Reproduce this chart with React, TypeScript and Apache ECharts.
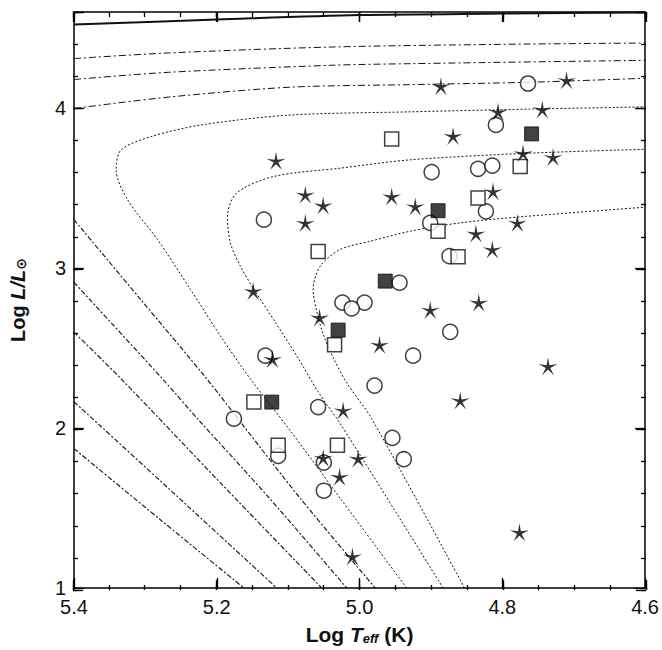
import React, { useEffect, useRef } from 'react';
import * as echarts from 'echarts';

// Axis ticks
const xTickValues = [5.4, 5.2, 5.0, 4.8, 4.6];
const yTickValues = [1, 2, 3, 4];

// Evolutionary tracks [log Teff, log L]
const trackTop = [[5.4, 4.522], [5.2, 4.553], [5.0, 4.581], [4.8, 4.59], [4.6, 4.597]];
const trackH1 = [[5.4, 4.309], [5.268, 4.344], [5.04, 4.381], [4.8, 4.398], [4.6, 4.406]];
const trackH2 = [[5.4, 4.178], [5.268, 4.223], [5.04, 4.267], [4.929, 4.277], [4.6, 4.298]];
const trackH3 = [[5.4, 3.997], [5.268, 4.068], [5.097, 4.13], [4.929, 4.146], [4.762, 4.161], [4.6, 4.186]];
const trackC5 = [[4.934, 1.0], [5.027, 1.56], [5.097, 1.983], [5.153, 2.307], [5.195, 2.576], [5.237, 2.867], [5.283, 3.178], [5.325, 3.427], [5.341, 3.614], [5.334, 3.738], [5.292, 3.821], [5.222, 3.894], [5.097, 3.956], [4.929, 3.976], [4.762, 3.993], [4.6, 4.007]];
const trackC6 = [[4.883, 1.0], [5.027, 2.027], [5.058, 2.226], [5.087, 2.444], [5.118, 2.661], [5.148, 2.867], [5.167, 3.012], [5.181, 3.157], [5.185, 3.323], [5.172, 3.469], [5.12, 3.572], [5.027, 3.624], [4.929, 3.676], [4.766, 3.717], [4.6, 3.742]];
const trackC7 = [[4.853, 1.0], [4.983, 2.058], [5.017, 2.276], [5.036, 2.431], [5.051, 2.587], [5.06, 2.73], [5.065, 2.867], [5.055, 3.012], [5.027, 3.116], [4.985, 3.167], [4.929, 3.23], [4.859, 3.282], [4.766, 3.323], [4.6, 3.38]];
const trackA = [[5.4, 3.302], [5.307, 2.805], [5.214, 2.307], [5.165, 2.027], [5.083, 1.56], [4.978, 1.0]];
const trackB = [[5.4, 2.91], [5.276, 2.307], [5.227, 2.058], [5.126, 1.56], [5.018, 1.0]];
const trackC = [[5.4, 2.599], [5.334, 2.307], [5.194, 1.653], [5.053, 1.0]];
const trackD = [[5.4, 2.164], [5.257, 1.579], [5.116, 1.0]];
const trackE = [[5.4, 1.871], [5.278, 1.423], [5.162, 1.0]];

// Stars by type [log Teff, log L]
const circles = [
  [5.134, 3.302], [4.764, 4.153], [4.809, 3.894], [4.899, 3.599], [4.834, 3.62], [4.814, 3.64],
  [4.823, 3.354], [4.901, 3.282], [4.874, 3.074], [4.944, 2.908], [5.024, 2.784], [4.993, 2.784],
  [5.011, 2.747], [4.925, 2.452], [5.132, 2.452], [4.979, 2.265], [5.058, 2.131], [5.176, 2.058],
  [5.114, 1.826], [5.05, 1.784], [5.05, 1.608], [4.954, 1.938], [4.938, 1.805], [4.873, 2.601],
];
const openSquares = [
  [4.955, 3.806], [5.058, 3.103], [4.775, 3.634], [4.834, 3.437], [4.89, 3.23],
  [4.862, 3.07], [5.035, 2.52], [5.148, 2.162], [5.114, 1.892], [5.031, 1.892],
];
const filledSquares = [
  [4.759, 3.838], [4.89, 3.358], [4.964, 2.918], [5.03, 2.612], [5.123, 2.162],
];
const stars = [
  [5.117, 3.67], [5.076, 3.458], [5.051, 3.391], [5.076, 3.282], [4.955, 3.447], [4.922, 3.385],
  [4.886, 4.136], [4.71, 4.174], [4.806, 3.976], [4.744, 3.991], [4.869, 3.825], [4.771, 3.717],
  [4.729, 3.693], [4.813, 3.479], [4.837, 3.215], [4.779, 3.282], [4.814, 3.116], [5.149, 2.856],
  [5.056, 2.691], [4.972, 2.52], [4.901, 2.738], [4.833, 2.784], [4.736, 2.386], [4.859, 2.172],
  [5.023, 2.11], [5.122, 2.431], [5.051, 1.813], [5.002, 1.809], [5.028, 1.695], [5.01, 1.197],
  [4.776, 1.348],
];

const FONT = '"Liberation Sans", Arial, Helvetica, sans-serif';
const INK = '#111111';
const STAR_PATH =
  'path://M0,-10L1.41,-1.94L9.51,-3.09L2.28,0.74L5.88,8.09L0,2.4L-5.88,8.09L-2.28,0.74L-9.51,-3.09L-1.41,-1.94Z';

function track(data: number[][], type: any, width: number) {
  return {
    type: 'line',
    data,
    symbol: 'none',
    showSymbol: false,
    smooth: 0.3,
    silent: true,
    clip: true,
    z: 1,
    lineStyle: { color: INK, width, type },
  };
}

// Thin strip axes whose split lines act as the frame's inward tick marks
function tickX(gridIndex: number, interval: number) {
  return {
    type: 'value',
    gridIndex,
    min: 4.6,
    max: 5.4,
    interval,
    inverse: true,
    axisLine: { show: false },
    axisTick: { show: false },
    axisLabel: { show: false },
    splitLine: { show: true, lineStyle: { color: '#000', width: 1.3 } },
  };
}
function tickY(gridIndex: number, interval: number) {
  return {
    type: 'value',
    gridIndex,
    min: 1,
    max: 4.6,
    interval,
    axisLine: { show: false },
    axisTick: { show: false },
    axisLabel: { show: false },
    splitLine: { show: true, lineStyle: { color: '#000', width: 1.3 } },
  };
}
function hiddenAxis(gridIndex: number) {
  return { type: 'value', gridIndex, show: false, min: 0, max: 1 };
}

export default function App() {
  const ref = useRef<HTMLDivElement>(null);
  useEffect(() => {
    if (!ref.current) return;
    const chart = echarts.init(ref.current, null, { renderer: 'svg' });
    const titleRich = (size: number) => ({
      n: { fontSize: size, fontWeight: 'bold', fontFamily: FONT, color: INK },
      i: { fontSize: size, fontWeight: 'bold', fontStyle: 'italic', fontFamily: FONT, color: INK },
      s: { fontSize: 13, fontWeight: 'bold', fontStyle: 'italic', fontFamily: FONT, color: INK, verticalAlign: 'bottom' },
      o: { fontSize: 14, fontWeight: 'bold', fontFamily: 'DejaVu Sans', color: INK, verticalAlign: 'bottom' },
    });
    const line = { show: true, onZero: false, lineStyle: { color: '#000', width: 1.5 } };
    const mainTick = { show: true, inside: true, length: 10, lineStyle: { color: '#000', width: 1.3 } };
    chart.setOption({
      animation: false,
      backgroundColor: '#fff',
      grid: [
        { left: 73, right: 16, top: 12, bottom: 60 },
        { left: 73, right: 16, bottom: 60, height: 10 },
        { left: 73, right: 16, bottom: 60, height: 5 },
        { left: 73, right: 16, top: 12, height: 10 },
        { left: 73, right: 16, top: 12, height: 5 },
        { left: 73, width: 10, top: 12, bottom: 60 },
        { left: 73, width: 5, top: 12, bottom: 60 },
        { right: 16, width: 10, top: 12, bottom: 60 },
        { right: 16, width: 5, top: 12, bottom: 60 },
      ],
      xAxis: [
        {
          type: 'value',
          gridIndex: 0,
          position: 'bottom',
          min: 4.6,
          max: 5.4,
          interval: 0.2,
          inverse: true,
          axisLine: line,
          axisTick: mainTick,
          splitLine: { show: false },
          axisLabel: {
            formatter: (v: number) => (xTickValues.some((t) => Math.abs(t - v) < 1e-6) ? v.toFixed(1) : ''),
            fontSize: 20,
            color: INK,
            fontFamily: FONT,
            margin: 9,
          },
          name: '{n|Log }{i|T}{s|eff}{n| (K)}',
          nameLocation: 'middle',
          nameGap: 36,
          nameTextStyle: { rich: titleRich(21) },
        },
        {
          type: 'value',
          gridIndex: 0,
          position: 'top',
          min: 4.6,
          max: 5.4,
          interval: 0.2,
          inverse: true,
          axisLine: line,
          axisTick: mainTick,
          splitLine: { show: false },
          axisLabel: { show: false },
        },
        tickX(1, 0.2),
        tickX(2, 0.05),
        tickX(3, 0.2),
        tickX(4, 0.05),
        hiddenAxis(5),
        hiddenAxis(6),
        hiddenAxis(7),
        hiddenAxis(8),
      ],
      yAxis: [
        {
          type: 'value',
          gridIndex: 0,
          position: 'left',
          min: 1,
          max: 4.6,
          interval: 1,
          axisLine: line,
          axisTick: mainTick,
          splitLine: { show: false },
          axisLabel: {
            formatter: (v: number) => {
              const r = Math.round(v);
              return Math.abs(v - r) < 1e-6 && yTickValues.includes(r) ? String(r) : '';
            },
            fontSize: 20,
            color: INK,
            fontFamily: FONT,
            margin: 8,
          },
          name: '{n|Log }{i|L/L}{o|⊙}',
          nameLocation: 'middle',
          nameGap: 46,
          nameTextStyle: { rich: titleRich(20) },
        },
        {
          type: 'value',
          gridIndex: 0,
          position: 'right',
          min: 1,
          max: 4.6,
          interval: 1,
          axisLine: line,
          axisTick: mainTick,
          axisLabel: { show: false },
          splitLine: { show: false },
        },
        hiddenAxis(1),
        hiddenAxis(2),
        hiddenAxis(3),
        hiddenAxis(4),
        tickY(5, 1),
        tickY(6, 0.2),
        tickY(7, 1),
        tickY(8, 0.2),
      ],
      series: [
        track(trackTop, 'solid', 2),
        track(trackH1, [7, 3, 2, 3], 1),
        track(trackH2, [7, 3, 2, 3], 1),
        track(trackH3, [7, 3, 2, 3], 1),
        track(trackC5, [2, 2], 1),
        track(trackC6, [2, 2], 1),
        track(trackC7, [2, 2], 1),
        track(trackA, [5, 2, 2, 2], 1.1),
        track(trackB, [5, 2, 2, 2], 1.1),
        track(trackC, [5, 2, 2, 2], 1.1),
        track(trackD, [5, 2, 2, 2], 1.1),
        track(trackE, [5, 2, 2, 2], 1.1),
        {
          type: 'scatter',
          data: circles,
          symbol: 'circle',
          symbolSize: 15,
          z: 3,
          itemStyle: { color: '#fff', borderColor: INK, borderWidth: 1.5 },
        },
        {
          type: 'scatter',
          data: openSquares,
          symbol: 'rect',
          symbolSize: 14,
          z: 4,
          itemStyle: { color: '#fff', borderColor: INK, borderWidth: 1.5 },
        },
        {
          type: 'scatter',
          data: filledSquares,
          symbol: 'rect',
          symbolSize: 14,
          z: 4,
          itemStyle: { color: INK, borderColor: INK, borderWidth: 1 },
        },
        {
          type: 'scatter',
          data: stars,
          symbol: STAR_PATH,
          symbolSize: [19, 18],
          z: 5,
          itemStyle: { color: '#000' },
        },
      ],
    });
    return () => chart.dispose();
  }, []);
  return (
    <div
      ref={ref}
      style={{ position: 'fixed', left: 0, top: 0, width: 662, height: 650, background: '#fff' }}
    />
  );
}
